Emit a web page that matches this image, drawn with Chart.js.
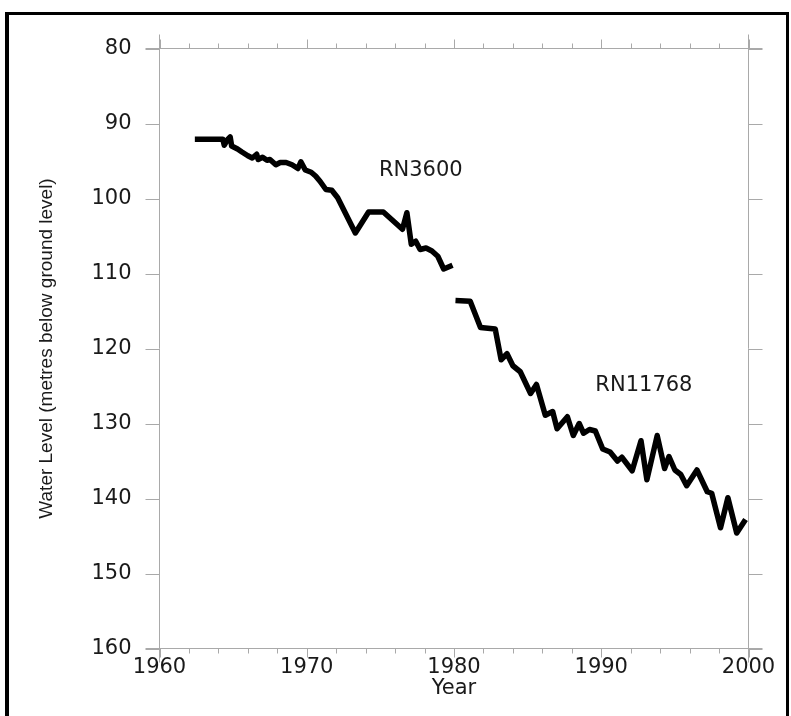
<!DOCTYPE html>
<html>
<head>
<meta charset="utf-8">
<script src="https://cdn.jsdelivr.net/npm/chart.js@4.4.1/dist/chart.umd.min.js"></script>
<style>
  html, body { margin: 0; padding: 0; background: #fff; }
  #wrap { position: relative; width: 791px; height: 716px; overflow: hidden; }
  #frame {
    position: absolute; left: 5px; top: 12px; width: 784px; height: 720px;
    border-top: 3px solid #000; border-left: 4px solid #000; border-right: 3px solid #000;
    box-sizing: border-box; pointer-events: none;
  }
</style>
</head>
<body>
<div id="wrap">
  <canvas id="myChart" width="791" height="716"></canvas>
  <div id="frame"></div>
</div>
<script>
// bore RN3600 (older record)
const rn3600Years = [1962.4, 1964.3, 1964.4, 1964.6, 1964.8, 1964.9, 1965.3, 1965.6, 1966.0, 1966.3,
  1966.6, 1966.7, 1967.0, 1967.3, 1967.5, 1967.9, 1968.2, 1968.6, 1969.0, 1969.4,
  1969.6, 1969.9, 1970.3, 1970.6, 1970.9, 1971.3, 1971.7, 1972.1, 1973.3, 1974.2,
  1975.2, 1976.5, 1976.8, 1977.1, 1977.4, 1977.7, 1978.1, 1978.5, 1978.9, 1979.3, 1979.9];
const rn3600Levels = [92.1, 92.1, 92.9, 92.2, 91.8, 93.0, 93.4, 93.8, 94.3, 94.6,
  94.1, 94.8, 94.5, 94.9, 94.8, 95.5, 95.2, 95.2, 95.5, 96.0,
  95.1, 96.2, 96.5, 97.0, 97.7, 98.8, 98.9, 99.9, 104.6, 101.8,
  101.8, 104.1, 101.9, 106.1, 105.7, 106.8, 106.6, 107.0, 107.7, 109.4, 108.9];

// bore RN11768 (replacement)
const rn11768Years = [1980.1, 1981.1, 1981.8, 1982.8, 1983.2, 1983.6, 1984.0, 1984.5, 1985.2, 1985.6,
  1986.2, 1986.7, 1987.0, 1987.7, 1988.1, 1988.5, 1988.8, 1989.2, 1989.6, 1990.1,
  1990.6, 1991.1, 1991.4, 1992.1, 1992.7, 1993.1, 1993.8, 1994.3, 1994.6, 1995.0,
  1995.4, 1995.8, 1996.5, 1997.2, 1997.5, 1998.1, 1998.6, 1999.2, 1999.8];
const rn11768Levels = [113.6, 113.7, 117.2, 117.4, 121.5, 120.7, 122.3, 123.1, 126.0, 124.8,
  128.9, 128.4, 130.7, 129.1, 131.6, 130.0, 131.3, 130.8, 131.0, 133.4,
  133.8, 135.0, 134.5, 136.3, 132.3, 137.5, 131.6, 136.0, 134.4, 136.2,
  136.8, 138.3, 136.2, 139.1, 139.3, 143.9, 139.9, 144.6, 142.8];

const yearTicks = [1960, 1970, 1980, 1990, 2000];
const levelTicks = [80, 90, 100, 110, 120, 130, 140, 150, 160];

const boreLabels = [
  { text: "RN3600", year: 1974.9, level: 96.3 },
  { text: "RN11768", year: 1989.6, level: 124.9 }
];

// the source picture is stretched sideways, a wide face copes best with that
const WIDE_FONT = "'DejaVu Sans', Verdana, sans-serif";
const FONT = "'Liberation Sans', Arial, sans-serif";
const TEXT_COLOR = "#1a1a1a";
const AXIS_GREY = "#a9a9a9";

function toPoints(xs, ys) {
    return xs.map((x, i) => ({ x: x, y: ys[i] }));
}

// box round the plot with tick marks, lines run a bit past each corner
const axisFrame = {
    id: "axisFrame",
    beforeDatasetsDraw(chart) {
        const { ctx, chartArea: a, scales: { x, y } } = chart;
        const ext = 14;
        ctx.save();
        ctx.strokeStyle = AXIS_GREY;
        ctx.lineWidth = 1;
        ctx.beginPath();
        ctx.moveTo(a.left - ext, a.top); ctx.lineTo(a.right + ext, a.top);
        ctx.moveTo(a.left - ext, a.bottom); ctx.lineTo(a.right + ext, a.bottom);
        ctx.moveTo(a.left, a.top - ext); ctx.lineTo(a.left, a.bottom + ext);
        ctx.moveTo(a.right, a.top - ext); ctx.lineTo(a.right, a.bottom + ext);
        for (let yr = x.min; yr <= x.max; yr += 2) {
            const px = Math.round(x.getPixelForValue(yr)) + 0.5;
            const len = yr % 10 === 0 ? 9 : 5;
            ctx.moveTo(px, a.top); ctx.lineTo(px, a.top - len);
            ctx.moveTo(px, a.bottom); ctx.lineTo(px, a.bottom + len);
        }
        levelTicks.forEach(v => {
            const py = Math.round(y.getPixelForValue(v)) + 0.5;
            ctx.moveTo(a.left, py); ctx.lineTo(a.left - ext, py);
            ctx.moveTo(a.right, py); ctx.lineTo(a.right + ext, py);
        });
        ctx.stroke();
        ctx.restore();
    },
    afterDatasetsDraw(chart) {
        const { ctx, scales: { x, y } } = chart;
        ctx.save();
        ctx.fillStyle = TEXT_COLOR;
        ctx.font = "21px " + WIDE_FONT;
        ctx.textAlign = "left";
        ctx.textBaseline = "middle";
        boreLabels.forEach(l => {
            ctx.fillText(l.text, x.getPixelForValue(l.year), y.getPixelForValue(l.level));
        });
        ctx.restore();
    }
};

document.addEventListener("DOMContentLoaded", function () {
    new Chart("myChart", {
        type: "line",
        data: {
            datasets: [{
                label: "RN3600",
                data: toPoints(rn3600Years, rn3600Levels)
            }, {
                label: "RN11768",
                data: toPoints(rn11768Years, rn11768Levels)
            }]
        },
        options: {
            responsive: false,
            animation: false,
            layout: { padding: { left: 30, top: 48.5, right: 42.5, bottom: 0 } },
            plugins: {
                legend: { display: false },
                tooltip: { enabled: false }
            },
            elements: {
                point: { radius: 0 },
                line: {
                    borderColor: "#000",
                    borderWidth: 5.5,
                    tension: 0,
                    fill: false,
                    borderJoinStyle: "round",
                    borderCapStyle: "butt"
                }
            },
            scales: {
                x: {
                    type: "linear",
                    position: "bottom",
                    min: 1960,
                    max: 2000,
                    grid: { display: false, drawTicks: false },
                    border: { display: false },
                    afterBuildTicks: s => { s.ticks = yearTicks.map(v => ({ value: v })); },
                    afterFit: s => { s.height = 67.5; s.paddingLeft = 0; s.paddingRight = 0; },
                    ticks: {
                        autoSkip: false, maxRotation: 0, padding: 6,
                        color: TEXT_COLOR, font: { family: WIDE_FONT, size: 21 },
                        callback: v => String(v)
                    },
                    title: {
                        display: true, text: "Year", color: TEXT_COLOR,
                        font: { family: WIDE_FONT, size: 21 },
                        padding: { top: 0, bottom: 15 }
                    }
                },
                y: {
                    type: "linear",
                    reverse: true,
                    min: 80,
                    max: 160,
                    grid: { display: false, drawTicks: false },
                    border: { display: false },
                    afterBuildTicks: s => { s.ticks = levelTicks.map(v => ({ value: v })); },
                    afterFit: s => { s.width = 129.5; s.paddingTop = 0; s.paddingBottom = 0; },
                    ticks: {
                        padding: 28,
                        color: TEXT_COLOR, font: { family: WIDE_FONT, size: 21 },
                        callback: v => String(v)
                    },
                    title: {
                        display: true,
                        text: "Water Level (metres below ground level)",
                        color: TEXT_COLOR,
                        font: { family: FONT, size: 19 },
                        padding: { top: 5, bottom: 0 }
                    }
                }
            }
        },
        plugins: [axisFrame]
    });
});
</script>
</body>
</html>
